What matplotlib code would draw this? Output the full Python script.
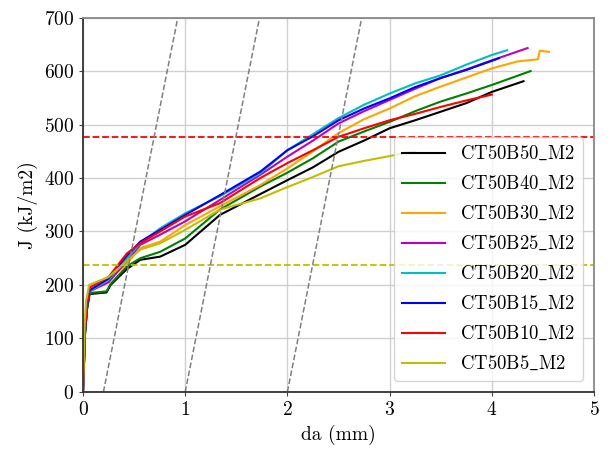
import matplotlib
matplotlib.use("Agg")
import matplotlib.pyplot as plt
import numpy as np

plt.rcParams['font.family'] = ['cmr10', 'DejaVu Serif']
plt.rcParams['mathtext.fontset'] = 'cm'
plt.rcParams['axes.unicode_minus'] = False
plt.rcParams['axes.formatter.use_mathtext'] = True

# ---- data ----
labels = ['CT50B50_M2', 'CT50B40_M2', 'CT50B30_M2', 'CT50B25_M2',
          'CT50B20_M2', 'CT50B15_M2', 'CT50B10_M2', 'CT50B5_M2']
colors = ['black', 'green', 'orange', 'm', 'c', 'blue', 'red', 'y']

da_B50 = [0, 0.02, 0.04, 0.065, 0.23, 0.27, 0.43, 0.56, 0.755, 1.0, 1.34, 1.735, 2.0, 2.25, 2.5, 2.75, 3.0, 3.25, 3.5, 3.75, 4.0, 4.31]
J_B50 = [0, 110, 155, 183, 186, 200, 230, 247, 253, 275, 331, 370, 396, 420, 449, 470, 493, 508, 524, 540, 561, 581]

da_B40 = [0, 0.02, 0.04, 0.065, 0.23, 0.27, 0.43, 0.56, 0.755, 1.0, 1.34, 1.735, 2.0, 2.25, 2.5, 2.75, 3.0, 3.25, 3.5, 3.75, 4.0, 4.38]
J_B40 = [0, 110, 158, 185, 188, 202, 235, 250, 262, 287, 341, 384, 410, 437, 468, 487, 505, 525, 543, 558, 574, 600]

da_B30 = [0, 0.02, 0.04, 0.065, 0.25, 0.43, 0.56, 0.755, 1.0, 1.34, 1.735, 2.0, 2.25, 2.5, 2.75, 3.0, 3.25, 3.5, 3.75, 4.0, 4.25, 4.45, 4.47, 4.56]
J_B30 = [0, 115, 162, 190, 210, 240, 269, 281, 312, 347, 387, 418, 450, 484, 510, 530, 553, 571, 588, 605, 618, 622, 638, 636]

da_B25 = [0, 0.02, 0.04, 0.065, 0.25, 0.43, 0.56, 0.755, 1.0, 1.34, 1.735, 2.0, 2.25, 2.5, 2.75, 3.0, 3.25, 3.5, 3.75, 4.0, 4.35]
J_B25 = [0, 112, 160, 188, 205, 245, 275, 294, 319, 359, 406, 440, 470, 502, 525, 546, 567, 587, 603, 620, 643]

da_B20 = [0, 0.02, 0.04, 0.065, 0.25, 0.43, 0.56, 0.755, 1.0, 1.34, 1.735, 2.0, 2.25, 2.5, 2.75, 3.0, 3.25, 3.5, 3.75, 4.0, 4.15]
J_B20 = [0, 112, 160, 188, 210, 250, 278, 306, 334, 366, 409, 452, 482, 512, 537, 558, 577, 592, 612, 630, 639]

da_B15 = [0, 0.02, 0.04, 0.065, 0.25, 0.43, 0.56, 0.755, 1.0, 1.34, 1.735, 2.0, 2.25, 2.5, 2.75, 3.0, 3.25, 3.5, 3.75, 4.07]
J_B15 = [0, 110, 158, 190, 212, 255, 281, 303, 331, 368, 412, 452, 478, 508, 530, 549, 570, 587, 602, 624]

da_B10 = [0, 0.02, 0.04, 0.065, 0.25, 0.43, 0.56, 0.755, 1.0, 1.34, 1.735, 2.0, 2.25, 2.5, 2.75, 3.0, 3.25, 3.5, 3.75, 4.0]
J_B10 = [0, 118, 165, 195, 215, 259, 278, 300, 328, 353, 400, 428, 452, 477, 493, 508, 520, 533, 545, 556]

da_B5 = [0, 0.015, 0.03, 0.06, 0.25, 0.43, 0.56, 0.755, 1.0, 1.34, 1.735, 2.0, 2.25, 2.5, 2.75, 3.0, 3.15, 3.25]
J_B5 = [0, 120, 170, 200, 215, 245, 266, 278, 303, 341, 362, 383, 402, 422, 432, 441, 447, 449]

series_da = [da_B50, da_B40, da_B30, da_B25, da_B20, da_B15, da_B10, da_B5]
series_J = [J_B50, J_B40, J_B30, J_B25, J_B20, J_B15, J_B10, J_B5]

J_limit_red = 477
J_limit_yellow = 238
offset_lines = [0.2, 1.0, 2.0]
offset_slope = 962  # kJ/m2 per mm

# ---- figure ----
fig = plt.figure(figsize=(6.08, 4.51), dpi=100)
ax = fig.add_axes([0.1365, 0.131, 0.8405, 0.830])

for da, J, c, lab in zip(series_da, series_J, colors, labels):
    ax.plot(da, J, color=c, lw=1.5, label=lab.replace('_', r'$\_$'))

ax.axhline(J_limit_red, color='red', ls='--', lw=1.3)
ax.axhline(J_limit_yellow, color='y', ls='--', lw=1.3)
for off in offset_lines:
    xs = np.array([off, off + 700 / offset_slope])
    ax.plot(xs, offset_slope * (xs - off), color='gray', ls='--', lw=1.1)

ax.set_xlim(0, 5)
ax.set_ylim(0, 700)
ax.set_xticks([0, 1, 2, 3, 4, 5])
ax.set_yticks([0, 100, 200, 300, 400, 500, 600, 700])
ax.grid(True, color='#d0d0d0', lw=1.0)
ax.set_axisbelow(True)
ax.tick_params(labelsize=14, length=3, color='#444444')
for s in ['left', 'bottom']:
    ax.spines[s].set_color('#333333')
    ax.spines[s].set_linewidth(1.3)
for s in ['top', 'right']:
    ax.spines[s].set_color('#888888')
    ax.spines[s].set_linewidth(1.3)

ax.set_xlabel('da (mm)', fontsize=14)
ax.set_ylabel('J (kJ/m2)', fontsize=14)

ax.legend(loc='lower right', fontsize=13.5, handlelength=2.3, framealpha=0.8,
          labelspacing=0.62, borderaxespad=0.6, handletextpad=0.8)

fig.savefig('out.png', dpi=100)
